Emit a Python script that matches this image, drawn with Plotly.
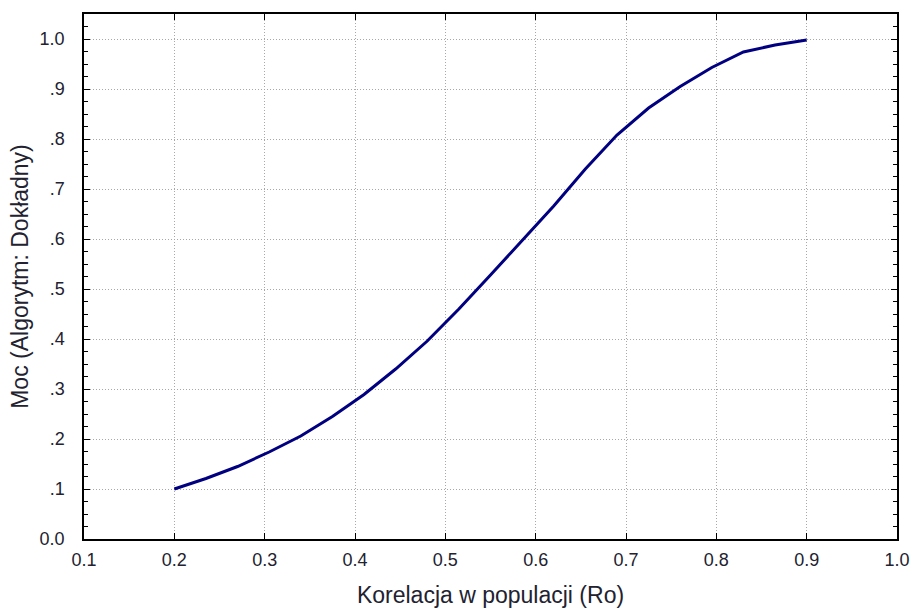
import plotly.graph_objects as go

rho = [0.2, 0.235, 0.27, 0.305, 0.34, 0.375, 0.41, 0.445, 0.48, 0.515, 0.55,
       0.585, 0.62, 0.655, 0.69, 0.725, 0.76, 0.795, 0.83, 0.865, 0.9]
power = [0.100, 0.121, 0.145, 0.174, 0.206, 0.245, 0.289, 0.340, 0.396, 0.460, 0.528,
         0.598, 0.666, 0.740, 0.808, 0.862, 0.905, 0.943, 0.974, 0.988, 0.998]

x_ticks = [0.1, 0.2, 0.3, 0.4, 0.5, 0.6, 0.7, 0.8, 0.9, 1.0]
x_labels = ["0.1", "0.2", "0.3", "0.4", "0.5", "0.6", "0.7", "0.8", "0.9", "1.0"]
y_ticks = [0.0, 0.1, 0.2, 0.3, 0.4, 0.5, 0.6, 0.7, 0.8, 0.9, 1.0]
y_labels = ["0.0", ".1", ".2", ".3", ".4", ".5", ".6", ".7", ".8", ".9", "1.0"]

fig = go.Figure()
fig.add_trace(go.Scatter(x=rho, y=power, mode="lines",
                         line=dict(color="#000080", width=3)))

font = "Liberation Sans, Arial, sans-serif"
tcol = "#222230"
fig.update_layout(
    width=911, height=610,
    margin=dict(l=84, r=14, t=14, b=71),
    paper_bgcolor="white", plot_bgcolor="white",
    showlegend=False,
    font=dict(family=font, color=tcol),
    xaxis=dict(
        range=[0.1, 1.0], tickvals=x_ticks, ticktext=x_labels,
        ticks="inside", ticklen=6, tickcolor="black",
        showline=True, linecolor="black", linewidth=1.5, mirror="ticks",
        showgrid=True, gridcolor="#a8a8a8", griddash="1px,2px", gridwidth=1,
        zeroline=False, automargin=False, ticklabelstandoff=4,
        tickfont=dict(size=18, family=font, color=tcol),
        title=dict(text="Korelacja w populacji (Ro)", font=dict(size=23, family=font, color=tcol),
                   standoff=18),
    ),
    yaxis=dict(
        range=[0, 1.05], tickvals=y_ticks, ticktext=y_labels,
        ticks="inside", ticklen=6, tickcolor="black",
        showline=True, linecolor="black", linewidth=1.5, mirror="ticks",
        showgrid=True, gridcolor="#a8a8a8", griddash="1px,2px", gridwidth=1,
        zeroline=False, automargin=False, ticklabelstandoff=14,
        minor=dict(dtick=0.025, ticks="inside", ticklen=4, tickcolor="black", showgrid=False),
        tickfont=dict(size=18, family=font, color=tcol),
        title=dict(text="Moc (Algorytm: Dokładny)", font=dict(size=23, family=font, color=tcol),
                   standoff=5),
    ),
)

fig.write_html("out.html")
